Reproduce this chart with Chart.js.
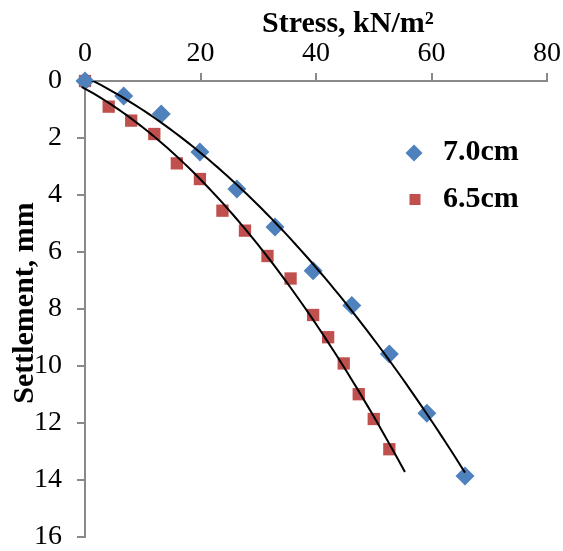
<!DOCTYPE html>
<html>
<head>
<meta charset="utf-8">
<script src="https://cdn.jsdelivr.net/npm/chart.js"></script>
<style>
  html, body { margin: 0; padding: 0; background: #fff; }
  #wrap { width: 563px; height: 551px; position: relative; }
</style>
</head>
<body>
<div id="wrap"><canvas id="settleChart"></canvas></div>
<script>
// values
var stress70 = [0, 6.7, 13.2, 19.9, 26.3, 32.9, 39.5, 46.2, 52.7, 59.2, 65.8];
var settle70 = [0, 0.53, 1.16, 2.49, 3.79, 5.12, 6.66, 7.88, 9.58, 11.66, 13.86];

var stress65 = [0, 4.1, 8.0, 12.0, 15.9, 19.9, 23.8, 27.7, 31.6, 35.6, 39.5, 42.1, 44.8, 47.4, 50.0, 52.7];
var settle65 = [0, 0.90, 1.39, 1.86, 2.89, 3.44, 4.55, 5.25, 6.14, 6.93, 8.21, 8.99, 9.91, 10.99, 11.86, 12.92];

var seriesNames = ["7.0cm", "6.5cm"];
var xTicks = [0, 20, 40, 60, 80];
var yTicks = [0, 2, 4, 6, 8, 10, 12, 14, 16];

// trendline span (x from, x to) as in the picture
var trend70Range = [-1.3, 65.8];
var trend65Range = [-1.3, 55.4];

var blue = "#4F81BD";
var red = "#C0504D";
var axisGrey = "#898989";
var serif = "'Liberation Serif', 'Times New Roman', serif";

function toPoints(xs, ys) {
    return xs.map(function (x, i) { return { x: x, y: ys[i] }; });
}

// 2nd order polynomial least squares, like the spreadsheet trendline
function polyFit(xs, ys) {
    var s = [0, 0, 0, 0, 0], t = [0, 0, 0];
    for (var i = 0; i < xs.length; i++) {
        var p = 1;
        for (var k = 0; k < 5; k++) {
            s[k] += p;
            if (k < 3) t[k] += p * ys[i];
            p *= xs[i];
        }
    }
    var m = [
        [s[0], s[1], s[2], t[0]],
        [s[1], s[2], s[3], t[1]],
        [s[2], s[3], s[4], t[2]]
    ];
    for (var c = 0; c < 3; c++) {
        for (var r = c + 1; r < 3; r++) {
            var f = m[r][c] / m[c][c];
            for (var j = c; j < 4; j++) m[r][j] -= f * m[c][j];
        }
    }
    var coef = [0, 0, 0];
    for (var r2 = 2; r2 >= 0; r2--) {
        var v = m[r2][3];
        for (var j2 = r2 + 1; j2 < 3; j2++) v -= m[r2][j2] * coef[j2];
        coef[r2] = v / m[r2][r2];
    }
    return coef;
}

function trendPoints(xs, ys, range) {
    var c = polyFit(xs, ys);
    var pts = [];
    var n = 80;
    for (var i = 0; i <= n; i++) {
        var x = range[0] + (range[1] - range[0]) * i / n;
        pts.push({ x: x, y: c[0] + c[1] * x + c[2] * x * x });
    }
    return pts;
}

var titlePlugin = {
    id: "titlesAndLegend",
    afterDraw: function (chart) {
        var ctx = chart.ctx;
        ctx.save();
        ctx.fillStyle = "#000";
        ctx.font = "bold 30px " + serif;
        ctx.textBaseline = "alphabetic";
        ctx.textAlign = "left";
        ctx.fillText("Stress, kN/m\u00B2", 262, 32);

        ctx.save();
        ctx.translate(33, 303);
        ctx.rotate(-Math.PI / 2);
        ctx.textAlign = "center";
        ctx.fillText("Settlement, mm", 0, 0);
        ctx.restore();

        // legend
        ctx.textBaseline = "middle";
        ctx.textAlign = "left";
        ctx.fillText(seriesNames[0], 443, 152);
        ctx.fillText(seriesNames[1], 443, 199);

        ctx.fillStyle = blue;
        ctx.beginPath();
        ctx.moveTo(414, 144.5);
        ctx.lineTo(422.5, 153);
        ctx.lineTo(414, 161.5);
        ctx.lineTo(405.5, 153);
        ctx.closePath();
        ctx.fill();

        ctx.fillStyle = red;
        ctx.fillRect(409.5, 194, 11, 11);
        ctx.restore();
    }
};

var ctx = document.getElementById("settleChart");
var settleChart = new Chart(ctx, {
    type: "scatter",
    data: {
        datasets: [
            {
                label: seriesNames[0] + " fit",
                type: "line",
                data: trendPoints(stress70, settle70, trend70Range),
                borderColor: "#000",
                borderWidth: 2,
                pointRadius: 0,
                fill: false,
                tension: 0,
                order: 0,
                clip: { left: 12, top: 0, right: 0, bottom: 0 }
            },
            {
                label: seriesNames[1] + " fit",
                type: "line",
                data: trendPoints(stress65, settle65, trend65Range),
                borderColor: "#000",
                borderWidth: 2,
                pointRadius: 0,
                fill: false,
                tension: 0,
                order: 0,
                clip: { left: 12, top: 0, right: 0, bottom: 0 }
            },
            {
                label: seriesNames[1],
                data: toPoints(stress65, settle65),
                pointStyle: "rect",
                pointRadius: 8.7,
                backgroundColor: red,
                borderColor: red,
                borderWidth: 0,
                order: 2,
                clip: 12
            },
            {
                label: seriesNames[0],
                data: toPoints(stress70, settle70),
                pointStyle: "rectRot",
                pointRadius: 9.5,
                backgroundColor: blue,
                borderColor: blue,
                borderWidth: 0,
                order: 1,
                clip: 12
            }
        ]
    },
    options: {
        responsive: true,
        maintainAspectRatio: false,
        animation: false,
        layout: { padding: { left: 0, top: 0, right: 16, bottom: 14 } },
        plugins: {
            legend: { display: false },
            tooltip: { enabled: false }
        },
        scales: {
            x: {
                type: "linear",
                position: "top",
                min: 0,
                max: 80,
                afterBuildTicks: function (s) {
                    s.ticks = xTicks.map(function (v) { return { value: v }; });
                },
                afterFit: function (s) {
                    s.height = 81;
                    s.paddingLeft = 0;
                    s.paddingRight = 0;
                },
                ticks: {
                    color: "#000",
                    padding: 3,
                    font: { family: serif, size: 28 }
                },
                grid: {
                    drawOnChartArea: false,
                    drawTicks: true,
                    tickLength: 8,
                    color: axisGrey,
                    lineWidth: 2
                },
                border: { display: true, color: axisGrey, width: 2 }
            },
            y: {
                type: "linear",
                reverse: true,
                min: 0,
                max: 16,
                afterBuildTicks: function (s) {
                    s.ticks = yTicks.map(function (v) { return { value: v }; });
                },
                afterFit: function (s) {
                    s.width = 85;
                    s.paddingTop = 0;
                    s.paddingBottom = 0;
                },
                ticks: {
                    color: "#000",
                    padding: 15,
                    font: { family: serif, size: 28 }
                },
                grid: {
                    drawOnChartArea: false,
                    drawTicks: true,
                    tickLength: 8,
                    color: axisGrey,
                    lineWidth: 2
                },
                border: { display: true, color: axisGrey, width: 2 }
            }
        }
    },
    plugins: [titlePlugin]
});
</script>
</body>
</html>
